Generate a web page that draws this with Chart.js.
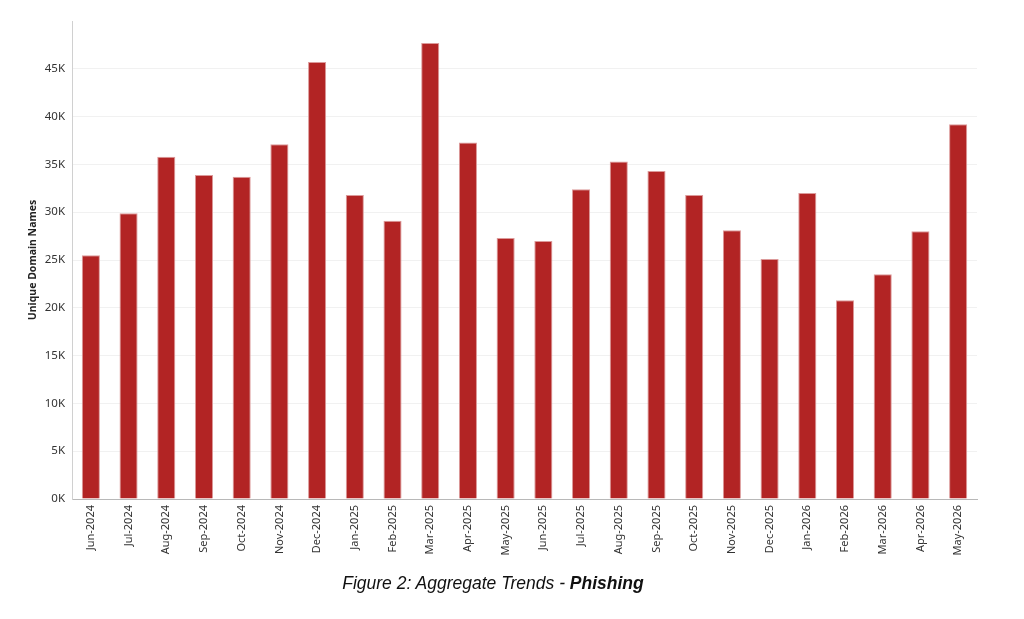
<!DOCTYPE html>
<html>
<head>
<meta charset="utf-8">
<script src="https://cdn.jsdelivr.net/npm/chart.js@4.4.1/dist/chart.umd.min.js"></script>
<style>
  html, body { margin: 0; padding: 0; background: #fff; }
  #wrap { position: relative; width: 1024px; height: 619px; }
  #c { position: absolute; left: 0; top: 0; }
  #caption { position: absolute; left: 0; width: 986px; top: 573px; text-align: center;
    font-family: "Liberation Sans", Arial, sans-serif; font-size: 17.5px; font-style: italic; color: #111; }
</style>
</head>
<body>
<div id="wrap">
  <canvas id="c" width="1024" height="619"></canvas>
  <div id="caption">Figure 2: Aggregate Trends - <b>Phishing</b></div>
</div>
<script>
const categories = ["Jun-2024","Jul-2024","Aug-2024","Sep-2024","Oct-2024","Nov-2024","Dec-2024",
  "Jan-2025","Feb-2025","Mar-2025","Apr-2025","May-2025","Jun-2025","Jul-2025","Aug-2025","Sep-2025",
  "Oct-2025","Nov-2025","Dec-2025","Jan-2026","Feb-2026","Mar-2026","Apr-2026","May-2026"];
const uniqueDomains = [25500, 29900, 35800, 33900, 33700, 37100, 45700,
  31800, 29100, 47700, 37300, 27300, 27000, 32400, 35300, 34300,
  31800, 28100, 25100, 32000, 20800, 23500, 28000, 39200];
const yMax = 50000;
const yStep = 5000;
const yTitle = "Unique Domain Names";

new Chart(document.getElementById('c'), {
  type: 'bar',
  data: {
    labels: categories,
    datasets: [{
      label: yTitle,
      data: uniqueDomains,
      backgroundColor: '#b22424',
      borderColor: '#dc9a9a',
      borderWidth: 1,
      barPercentage: 0.48,
      categoryPercentage: 1.0
    }]
  },
  options: {
    responsive: false,
    animation: false,
    layout: { padding: { top: 21, right: 47, left: 0, bottom: 0 } },
    plugins: { legend: { display: false }, tooltip: { enabled: false } },
    scales: {
      x: {
        grid: { display: false, drawTicks: false },
        border: { display: true, color: '#b8b8b8', width: 1 },
        ticks: {
          autoSkip: false, maxRotation: 90, minRotation: 90, padding: 6,
          color: '#333', font: { family: '"Noto Sans", "DejaVu Sans", sans-serif', size: 11 }
        },
        afterFit: (s) => { s.height = 120; }
      },
      y: {
        min: 0, max: yMax,
        grid: {
          color: (ctx) => (ctx.tick && ctx.tick.value === yMax) ? 'rgba(0,0,0,0)' : '#f1f1f1',
          drawTicks: false
        },
        border: { display: true, color: '#d0d0d0', width: 1 },
        ticks: {
          stepSize: yStep, padding: 7, color: '#333',
          font: { family: '"Noto Sans", "DejaVu Sans", sans-serif', size: 11.5 },
          callback: (v) => v >= yMax ? '' : (v / 1000) + 'K'
        },
        title: {
          display: true, text: yTitle, color: '#222',
          font: { family: '"Noto Sans", "DejaVu Sans", sans-serif', size: 10.5, weight: 'bold' },
          padding: { top: 27, bottom: 0 }
        },
        afterFit: (s) => { s.width = 72; }
      }
    }
  }
});
</script>
</body>
</html>
